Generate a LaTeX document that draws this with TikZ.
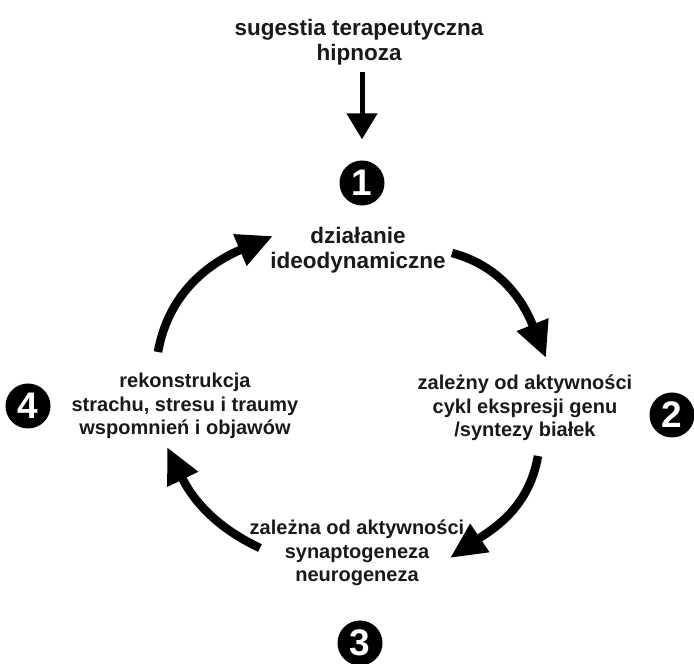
\documentclass[tikz,border=0pt]{standalone}
\usepackage{fontspec}
\setmainfont{Liberation Sans}
\usetikzlibrary{arrows.meta}
\begin{document}
\begin{tikzpicture}[x=1pt,y=1pt,
  lbl/.style={align=center, font=\bfseries\fontsize{20}{23.5}\selectfont, inner sep=0pt, text=black!90},
  biglbl/.style={align=center, font=\bfseries\fontsize{22.5}{25.5}\selectfont, inner sep=0pt, text=black!90},
  num/.style={circle, fill=black, minimum size=45pt, inner sep=0pt, text=white, font=\bfseries\fontsize{37}{37}\selectfont},
  cyc/.style={line width=8.5pt, -{Triangle[length=36pt,width=32pt]}},
  feed/.style={line width=5pt, -{Triangle[length=26pt,width=30pt]}},
]
\useasboundingbox (0,0) rectangle (694,664);
% texts
\node[biglbl] (src) at (359,622) {sugestia terapeutyczna\\hipnoza};
\node[biglbl] (t1) at (358,414) {działanie\\ideodynamiczne};
\node[lbl] (t2) at (525,256) {zależny od aktywności\\cykl ekspresji genu\\/syntezy białek};
\node[lbl] (t3) at (357,111) {zależna od aktywności\\synaptogeneza\\neurogeneza};
\node[lbl] (t4) at (185,258) {rekonstrukcja\\strachu, stresu i traumy\\wspomnień i objawów};
% numbered circles
\node[num] (c1) at (362,481) {1};
\node[num] (c2) at (672,249) {2};
\node[num] (c3) at (360,21) {3};
\node[num] (c4) at (28,258) {4};
% feed arrow
\draw[feed] (c1.north |- src.south) ++(0,-7) -- ([yshift=21pt]c1.north);
% cycle arrow ends
\coordinate (aS) at (452,411); \coordinate (aE) at (546,306);
\coordinate (bS) at (538,208); \coordinate (bE) at (450,106);
\coordinate (cS) at (260,116); \coordinate (cE) at (167,217);
\coordinate (dS) at (158,312); \coordinate (dE) at (273,428);
\draw[cyc] (aS) to[out=-15,in=112] (aE);
\draw[cyc] (bS) to[out=-100,in=34] (bE);
\draw[cyc] (cS) to[out=155,in=-64] (cE);
\draw[cyc] (dS) to[out=80,in=203] (dE);
\end{tikzpicture}
\end{document}
